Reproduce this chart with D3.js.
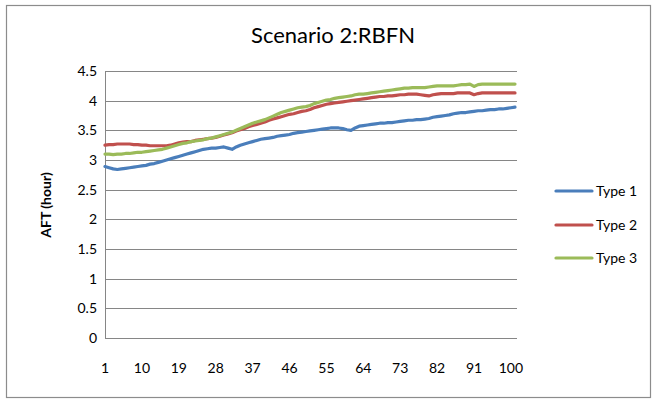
<!DOCTYPE html>
<html><head><meta charset="utf-8">
<script src="https://cdn.jsdelivr.net/npm/d3@7"></script>
<style>body{margin:0;background:#fff;}svg{display:block;font-family:Lato,"Open Sans",sans-serif;}</style>
</head><body>
<script>
const title = "Scenario 2:RBFN";
const yLabel = "AFT (hour)";
const xTickLabels = [1,10,19,28,37,46,55,64,73,82,91,100];
const yTicks = [0,0.5,1,1.5,2,2.5,3,3.5,4,4.5];
const seriesNames = ["Type 1","Type 2","Type 3"];
const seriesColors = ["#4A7EBB","#C0504D","#9BBB59"];
const type1 = [2.89,2.87,2.85,2.84,2.85,2.86,2.87,2.88,2.89,2.90,2.91,2.93,2.94,2.96,2.98,3.00,3.02,3.04,3.06,3.08,
3.10,3.12,3.14,3.16,3.18,3.19,3.20,3.20,3.21,3.22,3.20,3.18,3.22,3.25,3.27,3.29,3.31,3.33,3.35,3.36,
3.37,3.38,3.40,3.41,3.42,3.43,3.45,3.46,3.47,3.48,3.49,3.50,3.51,3.52,3.53,3.54,3.54,3.54,3.53,3.51,
3.50,3.54,3.57,3.58,3.59,3.60,3.61,3.62,3.62,3.63,3.63,3.64,3.65,3.66,3.67,3.67,3.68,3.68,3.69,3.70,
3.72,3.73,3.74,3.75,3.76,3.78,3.79,3.80,3.80,3.81,3.82,3.83,3.83,3.84,3.85,3.85,3.86,3.86,3.87,3.88,3.89];
const type2 = [3.25,3.26,3.26,3.27,3.27,3.27,3.27,3.26,3.26,3.25,3.25,3.24,3.24,3.24,3.24,3.24,3.25,3.27,3.29,3.30,
3.31,3.31,3.33,3.34,3.35,3.36,3.37,3.38,3.40,3.42,3.44,3.46,3.49,3.51,3.53,3.56,3.58,3.60,3.62,3.64,
3.67,3.69,3.71,3.73,3.75,3.77,3.78,3.80,3.82,3.83,3.85,3.88,3.90,3.92,3.94,3.95,3.96,3.97,3.98,3.99,
4.00,4.01,4.02,4.03,4.04,4.05,4.06,4.07,4.07,4.08,4.08,4.09,4.10,4.10,4.11,4.11,4.11,4.10,4.09,4.08,
4.10,4.11,4.12,4.12,4.12,4.12,4.13,4.13,4.13,4.13,4.10,4.12,4.13,4.13,4.13,4.13,4.13,4.13,4.13,4.13,4.13];
const type3 = [3.10,3.10,3.09,3.10,3.10,3.11,3.11,3.12,3.13,3.13,3.14,3.15,3.16,3.17,3.18,3.20,3.22,3.24,3.26,3.28,
3.29,3.31,3.32,3.33,3.34,3.36,3.37,3.39,3.41,3.43,3.45,3.47,3.50,3.53,3.56,3.59,3.62,3.64,3.66,3.68,
3.71,3.74,3.77,3.80,3.82,3.84,3.86,3.88,3.89,3.90,3.92,3.95,3.97,3.99,4.01,4.02,4.04,4.05,4.06,4.07,
4.08,4.10,4.11,4.11,4.12,4.13,4.14,4.15,4.16,4.17,4.18,4.19,4.20,4.21,4.21,4.22,4.22,4.22,4.22,4.23,
4.24,4.25,4.25,4.25,4.25,4.25,4.26,4.27,4.27,4.28,4.24,4.27,4.28,4.28,4.28,4.28,4.28,4.28,4.28,4.28,4.28];
const seriesValues = [type1, type2, type3];

const W = 657, H = 400;
const svg = d3.select("body").append("svg").attr("width", W).attr("height", H);
svg.append("rect").attr("x",6.5).attr("y",5.5).attr("width",644).attr("height",392)
  .attr("fill","#fff").attr("stroke","#8c8c8c").attr("stroke-width",1.2);

const plotL = 105, plotR = 517, plotT = 71, plotB = 338;
const x = d3.scaleLinear().domain([1, type1.length]).range([plotL, 515]);
const y = d3.scaleLinear().domain([0, 4.5]).range([plotB, plotT]);

// gridlines
svg.append("g").selectAll("line").data(yTicks.filter(d => d > 0)).join("line")
  .attr("x1", plotL).attr("x2", plotR)
  .attr("y1", d => Math.round(y(d)) + 0.5).attr("y2", d => Math.round(y(d)) + 0.5)
  .attr("stroke", "#868686").attr("stroke-width", 1);

// axes lines
svg.append("line").attr("x1", plotL+0.5).attr("x2", plotL+0.5).attr("y1", plotT).attr("y2", plotB)
  .attr("stroke","#868686");
svg.append("line").attr("x1", plotL).attr("x2", plotR).attr("y1", plotB+0.5).attr("y2", plotB+0.5)
  .attr("stroke","#868686");

// y tick labels
svg.append("g").selectAll("text").data(yTicks).join("text")
  .attr("x", 97).attr("y", d => y(d)).attr("dy","0.35em").attr("text-anchor","end")
  .attr("font-size", 14).attr("fill","#000").text(d => d);

// x tick labels
svg.append("g").selectAll("text").data(xTickLabels).join("text")
  .attr("x", d => x(d)).attr("y", 368).attr("dy","0.35em").attr("text-anchor","middle")
  .attr("font-size", 14).attr("fill","#000").text(d => d);

// y axis title
svg.append("text").attr("transform", "translate(46,205) rotate(-90)")
  .attr("text-anchor","middle").attr("dy","0.35em").attr("font-size", 14).attr("font-weight","bold")
  .text(yLabel);

// title
svg.append("text").attr("x", 333).attr("y", 35).attr("dy","0.35em").attr("text-anchor","middle")
  .attr("font-size", 22).text(title);

// lines
const line = d3.line().x((d,i) => x(i+1)).y(d => y(d));
seriesValues.forEach((vals, k) => {
  svg.append("path").datum(vals).attr("d", line).attr("fill","none")
    .attr("stroke", seriesColors[k]).attr("stroke-width", 3.2)
    .attr("stroke-linejoin","round").attr("stroke-linecap","round");
});

// legend
const legY = [191, 225, 258];
seriesNames.forEach((name, k) => {
  svg.append("line").attr("x1",556).attr("x2",592).attr("y1",legY[k]).attr("y2",legY[k])
    .attr("stroke", seriesColors[k]).attr("stroke-width", 3.2).attr("stroke-linecap","round");
  svg.append("text").attr("x", 596).attr("y", legY[k]).attr("dy","0.35em")
    .attr("font-size", 14).text(name);
});
</script>
</body></html>
